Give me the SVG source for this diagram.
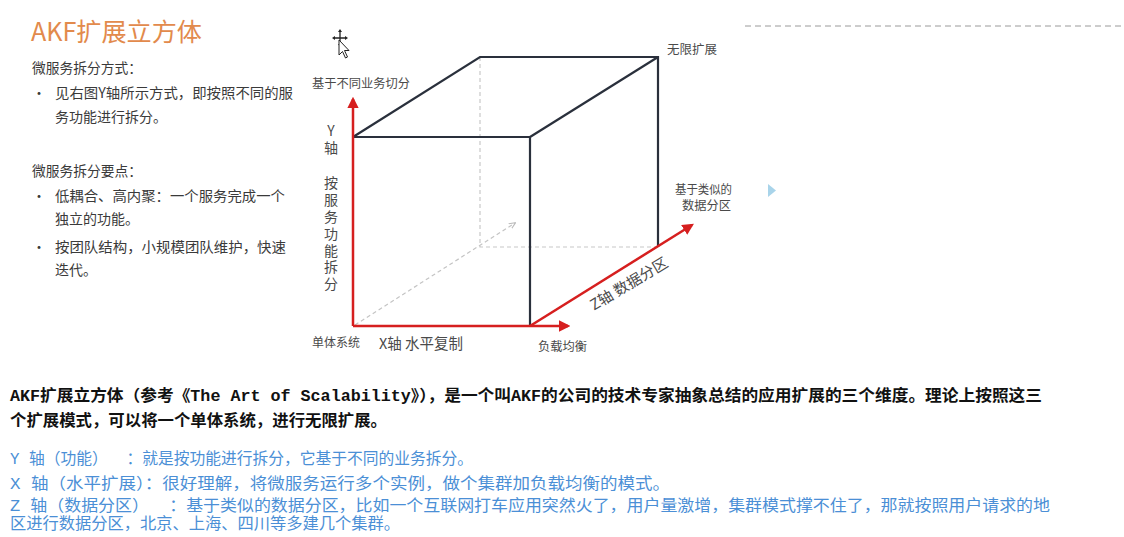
<svg xmlns="http://www.w3.org/2000/svg" width="1124" height="537" viewBox="0 0 1124 537">
<style>
.sans{font-family:"Noto Sans CJK SC","Liberation Sans",sans-serif;}
.lt{font-size:14px;fill:#3a3a3a;}
.dl{font-size:12px;fill:#4a4a4a;}
.ax{font-size:15px;fill:#4a4a4a;}
.vt{font-size:14px;fill:#4a4a4a;writing-mode:vertical-rl;text-orientation:upright;letter-spacing:2.8px;}
.cube{stroke:#2a303c;stroke-width:2.2;fill:none;}
.back{stroke:#c8c8c8;stroke-width:1.2;stroke-dasharray:4 3;fill:none;}
.red{stroke:#d61f1f;stroke-width:2.5;fill:none;}
.bt{font-family:"Liberation Mono","Noto Sans CJK SC",monospace;font-size:16px;white-space:pre;}
.blk{fill:#111;font-weight:bold;}
.blu{fill:#4b8fd6;}
</style>
<defs>
<marker id="ra" viewBox="0 0 10 10" refX="8" refY="5" markerWidth="4.6" markerHeight="4.6" orient="auto" markerUnits="strokeWidth">
<path d="M0,0 L10,5 L0,10 z" fill="#d61f1f"/>
</marker>
<marker id="ga" viewBox="0 0 10 10" refX="8" refY="5" markerWidth="6" markerHeight="6" orient="auto" markerUnits="strokeWidth">
<path d="M0,1 L9,5 L0,9" fill="none" stroke="#bbbbbb" stroke-width="1.5"/>
</marker>
</defs>
<rect width="1124" height="537" fill="#ffffff"/>

<g id="title"><text class="sans" x="31" y="41" font-size="25" fill="#e28a4c" textLength="171" lengthAdjust="spacingAndGlyphs">AKF扩展立方体</text></g>
<g id="left-text" class="sans lt">
<text x="32" y="73" textLength="110" lengthAdjust="spacingAndGlyphs">微服务拆分方式：</text>
<text x="32" y="98">•</text>
<text x="55" y="98" textLength="238" lengthAdjust="spacingAndGlyphs">见右图Y轴所示方式，即按照不同的服</text>
<text x="55" y="122">务功能进行拆分。</text>
<text x="32" y="176" textLength="110" lengthAdjust="spacingAndGlyphs">微服务拆分要点：</text>
<text x="32" y="201">•</text>
<text x="55" y="201" textLength="230" lengthAdjust="spacingAndGlyphs">低耦合、高内聚：一个服务完成一个</text>
<text x="55" y="224">独立的功能。</text>
<text x="32" y="252">•</text>
<text x="55" y="252" textLength="231" lengthAdjust="spacingAndGlyphs">按团队结构，小规模团队维护，快速</text>
<text x="55" y="275">迭代。</text>
</g>

<g id="cursor" fill="#222" stroke="#222">
<path d="M340,31 V45 M334,38 H346" stroke-width="1.3" fill="none"/>
<path d="M340,29 l-2,3 h4z M340,47 l-2,-3 h4z M332,38 l3,-2 v4z M348,38 l-3,-2 v4z" stroke="none"/>
<path d="M339,40 L339,55 L342.5,51.5 L345.5,58 L347.5,57 L344.5,50.5 L349,50.5 Z" fill="#fff" stroke="#222" stroke-width="1"/>
</g>

<g id="cube">
<path class="back" d="M480,57 V247 H658"/>
<path class="cube" d="M353,137 H530 V326 M353,137 L480,57 H658 V247 M530,137 L658,57"/>
</g>

<g id="connectors">
<line x1="355" y1="325" x2="515" y2="223" stroke="#c4c4c4" stroke-width="1.2" stroke-dasharray="4 3" marker-end="url(#ga)"/>
<line class="red" x1="353" y1="326" x2="353" y2="99" marker-end="url(#ra)"/>
<line class="red" x1="353" y1="326" x2="568" y2="326" marker-end="url(#ra)"/>
<line class="red" x1="530" y1="326" x2="692" y2="225" marker-end="url(#ra)"/>
</g>

<g id="labels" class="sans">
<text class="dl" x="312" y="88" textLength="98" lengthAdjust="spacingAndGlyphs">基于不同业务切分</text>
<text class="dl" x="667" y="54" textLength="50" lengthAdjust="spacingAndGlyphs">无限扩展</text>
<text class="dl" x="675" y="194" textLength="57" lengthAdjust="spacingAndGlyphs">基于类似的</text>
<text class="dl" x="682" y="210" textLength="49" lengthAdjust="spacingAndGlyphs">数据分区</text>
<text class="dl" x="312" y="347" textLength="48" lengthAdjust="spacingAndGlyphs">单体系统</text>
<text class="ax" x="379" y="349" textLength="84" lengthAdjust="spacingAndGlyphs">X轴 水平复制</text>
<text class="dl" x="538" y="351" textLength="49" lengthAdjust="spacingAndGlyphs">负载均衡</text>
<text class="vt" x="331" y="124">Y轴</text>
<text class="vt" x="331" y="176">按服务功能拆分</text>
<text class="ax" transform="translate(629,284) rotate(-31)" x="0" y="5" text-anchor="middle">Z轴 数据分区</text>
</g>

<line x1="745" y1="26" x2="1124" y2="26" stroke="#9a9a9a" stroke-width="1" stroke-dasharray="6 4"/>
<polygon points="768,184 776,190.5 768,197" fill="#a9d4ea"/>

<g id="bottom-text">
<text class="bt blk" x="10" y="401" textLength="1032" lengthAdjust="spacingAndGlyphs">AKF扩展立方体（参考《The Art of Scalability》），是一个叫AKF的公司的技术专家抽象总结的应用扩展的三个维度。理论上按照这三</text>
<text class="bt blk" x="10" y="426" textLength="377" lengthAdjust="spacingAndGlyphs">个扩展模式，可以将一个单体系统，进行无限扩展。</text>
<text class="bt blu" x="10" y="464" textLength="463" lengthAdjust="spacingAndGlyphs">Y 轴（功能）  ：就是按功能进行拆分，它基于不同的业务拆分。</text>
<text class="bt blu" x="10" y="489" textLength="660" lengthAdjust="spacingAndGlyphs">X 轴（水平扩展）：很好理解，将微服务运行多个实例，做个集群加负载均衡的模式。</text>
<text class="bt blu" x="10" y="511" textLength="1040" lengthAdjust="spacingAndGlyphs">Z 轴（数据分区）  ：基于类似的数据分区，比如一个互联网打车应用突然火了，用户量激增，集群模式撑不住了，那就按照用户请求的地</text>
<text class="bt blu" x="10" y="529" textLength="390" lengthAdjust="spacingAndGlyphs">区进行数据分区，北京、上海、四川等多建几个集群。</text>
</g>
</svg>
